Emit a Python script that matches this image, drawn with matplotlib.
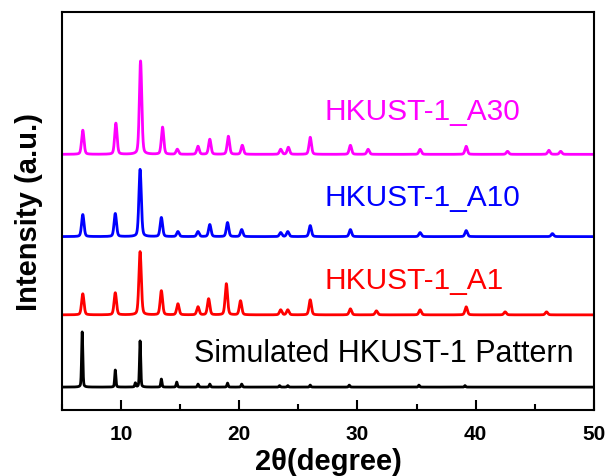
import matplotlib
matplotlib.use("Agg")
import matplotlib.pyplot as plt
from matplotlib.ticker import MultipleLocator
import numpy as np

plt.rcParams["font.family"] = ["Liberation Sans", "DejaVu Sans"]

# peak positions (2theta) and heights (a.u.)
sim_pos = [6.7, 9.5, 11.2, 11.6, 13.4, 14.7, 16.5, 17.5, 19.0, 20.2, 23.4, 24.1, 26.0, 29.3, 35.2, 39.1]
sim_h = [55, 17, 4, 46, 8, 5, 3, 3, 4, 3, 1.5, 1.5, 2, 2, 2, 1.5]

a1_pos = [6.75, 9.5, 11.6, 13.4, 14.8, 16.5, 17.4, 18.9, 20.1, 23.5, 24.1, 26.0, 29.4, 31.6, 35.3, 39.2, 42.5, 46.0]
a1_h = [21, 22, 63, 24, 11, 8, 16, 31, 14, 5, 5, 15, 6, 4, 5, 8, 3, 3]

a10_pos = [6.75, 9.5, 11.6, 13.4, 14.8, 16.5, 17.5, 19.0, 20.2, 23.5, 24.1, 26.0, 29.4, 35.3, 39.2, 46.5]
a10_h = [22, 23, 67, 19, 5, 5, 12, 14, 7, 4, 5, 11, 7, 4, 6, 3]

a30_pos = [6.75, 9.55, 11.64, 13.5, 14.75, 16.5, 17.5, 19.07, 20.25, 23.5, 24.15, 26.0, 29.4, 30.9, 35.3, 39.2, 42.7, 46.2, 47.2]
a30_h = [24, 31, 93, 27, 5, 8, 15, 18, 9, 5, 7, 17, 9, 5, 5, 8, 3, 4, 3]

offsets = [23, 95, 173, 255]
names = ["Simulated HKUST-1 Pattern", "HKUST-1_A1", "HKUST-1_A10", "HKUST-1_A30"]
colors = ["black", "#ff0000", "#0000ff", "#ff00ff"]
label_xy = [(16.2, 57), (27.2, 130), (27.2, 212), (27.2, 298)]
label_size = [22, 21.5, 21.5, 21.5]


def pattern(x, pos, h, w):
    # pseudo-Voigt peaks
    y = np.zeros_like(x)
    for p, a in zip(pos, h):
        g = np.exp(-4 * np.log(2) * ((x - p) / w) ** 2)
        l = 1 / (1 + 4 * ((x - p) / w) ** 2)
        y += a * (0.7 * g + 0.3 * l)
    return y


x = np.linspace(5, 50, 4501)
series = [
    (sim_pos, sim_h, 0.12),
    (a1_pos, a1_h, 0.24),
    (a10_pos, a10_h, 0.24),
    (a30_pos, a30_h, 0.24),
]

fig = plt.figure(figsize=(6.09, 4.77), dpi=100)
ax = fig.add_axes([0.102, 0.138, 0.873, 0.835])

for (pos, h, w), off, c, name, (tx, ty), fs in zip(series, offsets, colors, names, label_xy, label_size):
    ax.plot(x, pattern(x, pos, h, w) + off, color=c, lw=2.0)
    ax.text(tx, ty, name, color=c, fontsize=fs, va="center", ha="left")

ax.set_xlim(5, 50)
ax.set_ylim(0, 397)
ax.xaxis.set_major_locator(MultipleLocator(10))
ax.xaxis.set_minor_locator(MultipleLocator(5))
ax.tick_params(axis="x", which="major", direction="in", length=7.5, width=1.5,
               labelsize=15, pad=10)
ax.tick_params(axis="x", which="minor", direction="in", length=4, width=1.5)
ax.set_yticks([])
for lbl in ax.get_xticklabels():
    lbl.set_fontweight("bold")
for sp in ax.spines.values():
    sp.set_linewidth(1.5)

ax.set_xlabel("2θ(degree)", fontsize=21, fontweight="bold", labelpad=3)
ax.set_ylabel("Intensity (a.u.)", fontsize=21, fontweight="bold", labelpad=14)

fig.savefig("out.png", dpi=100)
